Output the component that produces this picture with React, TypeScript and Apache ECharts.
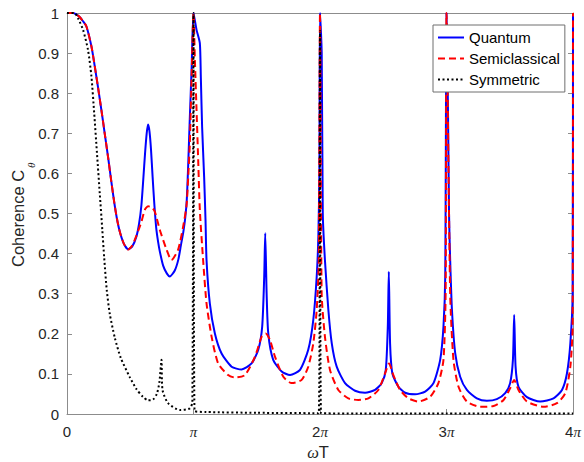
import React, { useEffect, useRef } from "react";
import * as echarts from "echarts";

// x in units of pi, y = coherence
const xTickLabels = ["0", "π", "2π", "3π", "4π"];
const seriesNames = ["Quantum", "Semiclassical", "Symmetric"];

const quantum: [number, number][] = [
  [0, 1], [0.05, 1], [0.08, 0.995], [0.1, 0.99], [0.125, 0.98], [0.153, 0.967],
  [0.193, 0.917], [0.219, 0.868], [0.245, 0.815], [0.272, 0.758], [0.298, 0.7],
  [0.325, 0.64], [0.346, 0.59], [0.37, 0.535], [0.393, 0.49], [0.417, 0.455],
  [0.449, 0.425], [0.483, 0.411], [0.516, 0.418], [0.549, 0.443], [0.57, 0.475],
  [0.588, 0.52], [0.603, 0.585], [0.617, 0.65], [0.63, 0.7], [0.641, 0.722],
  [0.652, 0.705], [0.664, 0.66], [0.677, 0.59], [0.69, 0.525], [0.705, 0.465],
  [0.72, 0.43], [0.734, 0.405], [0.76, 0.37], [0.79, 0.35], [0.813, 0.343],
  [0.852, 0.358], [0.88, 0.385], [0.9, 0.42], [0.92, 0.455], [0.935, 0.49],
  [0.947, 0.535], [0.958, 0.62], [0.971, 0.74], [0.985, 0.86], [1.0, 1.0],
  [1.024, 0.958], [1.05, 0.925], [1.058, 0.84], [1.068, 0.717], [1.084, 0.592],
  [1.095, 0.484], [1.103, 0.384], [1.129, 0.276], [1.169, 0.201], [1.222, 0.151],
  [1.301, 0.118], [1.38, 0.111], [1.459, 0.126], [1.512, 0.16], [1.543, 0.218],
  [1.559, 0.343], [1.567, 0.451], [1.578, 0.301], [1.591, 0.201], [1.63, 0.135],
  [1.697, 0.106], [1.763, 0.097], [1.842, 0.11], [1.907, 0.16], [1.947, 0.235],
  [1.974, 0.343], [1.987, 0.443], [1.995, 0.6], [2.0, 1.0], [2.0135, 0.9],
  [2.022, 0.5], [2.039, 0.384], [2.066, 0.26], [2.093, 0.176], [2.132, 0.118],
  [2.198, 0.077], [2.277, 0.058], [2.356, 0.053], [2.435, 0.06], [2.488, 0.077],
  [2.52, 0.11], [2.536, 0.218], [2.544, 0.355], [2.554, 0.176], [2.572, 0.101],
  [2.62, 0.068], [2.673, 0.053], [2.752, 0.049], [2.831, 0.056], [2.897, 0.077],
  [2.95, 0.135], [2.976, 0.218], [2.99, 0.343], [3.0, 1.0], [3.012, 0.75],
  [3.02, 0.5], [3.029, 0.384], [3.043, 0.26], [3.069, 0.151], [3.108, 0.093],
  [3.161, 0.06], [3.24, 0.039], [3.319, 0.033], [3.398, 0.037], [3.464, 0.052],
  [3.503, 0.077], [3.525, 0.135], [3.535, 0.247], [3.546, 0.118], [3.569, 0.068],
  [3.636, 0.042], [3.741, 0.031], [3.846, 0.039], [3.913, 0.06], [3.952, 0.101],
  [3.979, 0.176], [3.997, 0.301], [4.0, 1.0],
];

const semiclassical: [number, number][] = [
  [0, 1], [0.05, 1], [0.08, 0.995], [0.1, 0.99], [0.125, 0.98], [0.153, 0.967],
  [0.193, 0.917], [0.219, 0.868], [0.245, 0.815], [0.272, 0.758], [0.298, 0.7],
  [0.325, 0.64], [0.346, 0.59], [0.37, 0.535], [0.393, 0.49], [0.417, 0.455],
  [0.449, 0.425], [0.483, 0.41], [0.516, 0.42], [0.549, 0.445], [0.589, 0.48],
  [0.615, 0.509], [0.641, 0.518], [0.671, 0.515], [0.694, 0.505], [0.734, 0.459],
  [0.787, 0.41], [0.826, 0.384], [0.8785, 0.41], [0.918, 0.467], [0.945, 0.52],
  [0.958, 0.59], [0.971, 0.675], [0.985, 0.84], [1.0, 1.0], [1.011, 0.883],
  [1.024, 0.759], [1.037, 0.634], [1.05, 0.509], [1.076, 0.384], [1.103, 0.276],
  [1.143, 0.193], [1.195, 0.126], [1.274, 0.097], [1.327, 0.091], [1.406, 0.097],
  [1.486, 0.143], [1.539, 0.193], [1.57, 0.201], [1.604, 0.185], [1.644, 0.143],
  [1.71, 0.093], [1.776, 0.077], [1.855, 0.085], [1.907, 0.118], [1.947, 0.176],
  [1.974, 0.26], [1.99, 0.38], [2.0, 1.0], [2.013, 0.301], [2.039, 0.193],
  [2.079, 0.11], [2.145, 0.06], [2.224, 0.039], [2.303, 0.035], [2.382, 0.039],
  [2.461, 0.06], [2.514, 0.101], [2.546, 0.126], [2.58, 0.097], [2.633, 0.06],
  [2.699, 0.039], [2.778, 0.031], [2.871, 0.043], [2.936, 0.077], [2.976, 0.135],
  [2.993, 0.3], [3.0, 1.0], [3.029, 0.3], [3.055, 0.135], [3.095, 0.068],
  [3.161, 0.031], [3.266, 0.018], [3.372, 0.02], [3.451, 0.035], [3.503, 0.064],
  [3.535, 0.085], [3.569, 0.06], [3.636, 0.031], [3.767, 0.018], [3.873, 0.027],
  [3.939, 0.052], [3.979, 0.118], [3.997, 0.218], [4.0, 1.0],
];

const symmetric: [number, number][] = [
  [0, 1], [0.06, 1], [0.087, 0.987], [0.127, 0.958], [0.166, 0.908], [0.193, 0.842],
  [0.215, 0.75], [0.237, 0.65], [0.259, 0.55], [0.279, 0.46], [0.294, 0.39],
  [0.314, 0.31], [0.338, 0.25], [0.378, 0.19], [0.425, 0.14], [0.496, 0.092],
  [0.549, 0.062], [0.6, 0.043], [0.641, 0.034], [0.68, 0.036], [0.71, 0.05],
  [0.73, 0.078], [0.747, 0.135], [0.755, 0.06], [0.799, 0.027], [0.892, 0.01],
  [0.971, 0.014], [0.991, 0.03], [1.0, 1.0], [1.008, 0.008], [1.1, 0.005],
  [1.5, 0.003], [1.99, 0.002], [2.0, 0.955], [2.008, 0.002], [3.0, 0.001],
  [4.0, 0.001],
];

const AXIS_GREY = "#8c8c8c";
const TEXT = "#262626";

export default function App() {
  const ref = useRef<HTMLDivElement>(null);
  useEffect(() => {
    if (!ref.current) return;
    const chart = echarts.init(ref.current, undefined, { renderer: "svg" });
    const baseAxis = {
      type: "value" as const,
      axisLine: { show: true, onZero: false, lineStyle: { color: AXIS_GREY, width: 1 } },
      axisTick: { show: true, inside: true, length: 5, lineStyle: { color: AXIS_GREY } },
      splitLine: { show: false },
    };
    const lineCommon = {
      type: "line" as const,
      symbol: "none",
      showSymbol: false,
      smooth: 0.22,
    };
    chart.setOption({
      animation: false,
      backgroundColor: "#ffffff",
      grid: { left: 67, right: 11, top: 13, bottom: 48, containLabel: false },
      legend: {
        data: seriesNames,
        orient: "vertical",
        left: 433,
        top: 25,
        itemWidth: 26,
        itemHeight: 14,
        itemGap: 4,
        padding: [4, 5, 4, 4],
        backgroundColor: "#ffffff",
        borderColor: "#6e6e6e",
        borderWidth: 1,
        itemStyle: { opacity: 0 },
        textStyle: { fontFamily: "Liberation Sans", fontSize: 15, color: "#000", lineHeight: 17 },
      },
      xAxis: [
        {
          ...baseAxis,
          min: 0,
          max: 4,
          interval: 1,
          position: "bottom",
          axisLabel: {
            margin: 10,
            color: TEXT,
            formatter: (v: number) => {
              const s = xTickLabels[Math.round(v)] || "";
              if (s === "0") return "{n|0}";
              const num = s.replace("π", "");
              return (num ? "{n|" + num + "}" : "") + "{p|π}";
            },
            rich: {
              n: { fontFamily: "Liberation Sans", fontSize: 15, color: TEXT },
              p: { fontFamily: "Liberation Serif", fontStyle: "italic", fontSize: 15, color: TEXT },
            },
          },
        },
        {
          ...baseAxis,
          min: 0,
          max: 4,
          interval: 1,
          position: "top",
          axisLabel: { show: false },
        },
      ],
      yAxis: [
        {
          ...baseAxis,
          min: 0,
          max: 1,
          interval: 0.1,
          position: "left",
          axisLabel: {
            margin: 8,
            color: TEXT,
            fontFamily: "Liberation Sans",
            fontSize: 15,
            formatter: (v: number) => (Math.abs(v) < 1e-9 ? "0" : Math.abs(v - 1) < 1e-9 ? "1" : v.toFixed(1)),
          },
        },
        {
          ...baseAxis,
          min: 0,
          max: 1,
          interval: 0.1,
          position: "right",
          axisLabel: { show: false },
        },
      ],
      series: [
        {
          ...lineCommon,
          name: seriesNames[0],
          data: quantum,
          color: "#0000ff",
          lineStyle: { color: "#0000ff", width: 2 },
          z: 2,
        },
        {
          ...lineCommon,
          name: seriesNames[1],
          data: semiclassical,
          color: "#ff0000",
          lineStyle: { color: "#ff0000", width: 2, type: [7, 4] },
          z: 3,
        },
        {
          ...lineCommon,
          name: seriesNames[2],
          data: symmetric,
          color: "#000000",
          lineStyle: { color: "#000000", width: 2, type: [2, 2.5] },
          z: 4,
        },
      ],
      graphic: [
        {
          type: "group",
          x: 18,
          y: 267,
          rotation: Math.PI / 2,
          children: [
            {
              type: "text",
              x: 0,
              y: 0,
              style: {
                text: "Coherence C",
                font: "16.5px 'Liberation Sans'",
                fill: TEXT,
                textAlign: "left",
                textVerticalAlign: "middle",
                verticalAlign: "middle",
              },
            },
            {
              type: "text",
              x: 99,
              y: 13,
              style: {
                text: "θ",
                font: "italic 11px 'Liberation Serif'",
                fill: TEXT,
                textAlign: "left",
                textVerticalAlign: "middle",
                verticalAlign: "middle",
              },
            },
          ],
        },
        {
          type: "text",
          x: 318,
          y: 452,
          style: {
            text: "{w|ω}{t|T}",
            rich: {
              w: { font: "italic 16.5px 'Liberation Serif'", fill: TEXT },
              t: { font: "16.5px 'Liberation Sans'", fill: TEXT },
            },
            fill: TEXT,
            textAlign: "center",
            textVerticalAlign: "middle",
            verticalAlign: "middle",
          },
        },
      ],
    });
    return () => chart.dispose();
  }, []);
  return (
    <div
      ref={ref}
      style={{ position: "fixed", left: 0, top: 0, width: 584, height: 462, background: "#fff" }}
    />
  );
}
